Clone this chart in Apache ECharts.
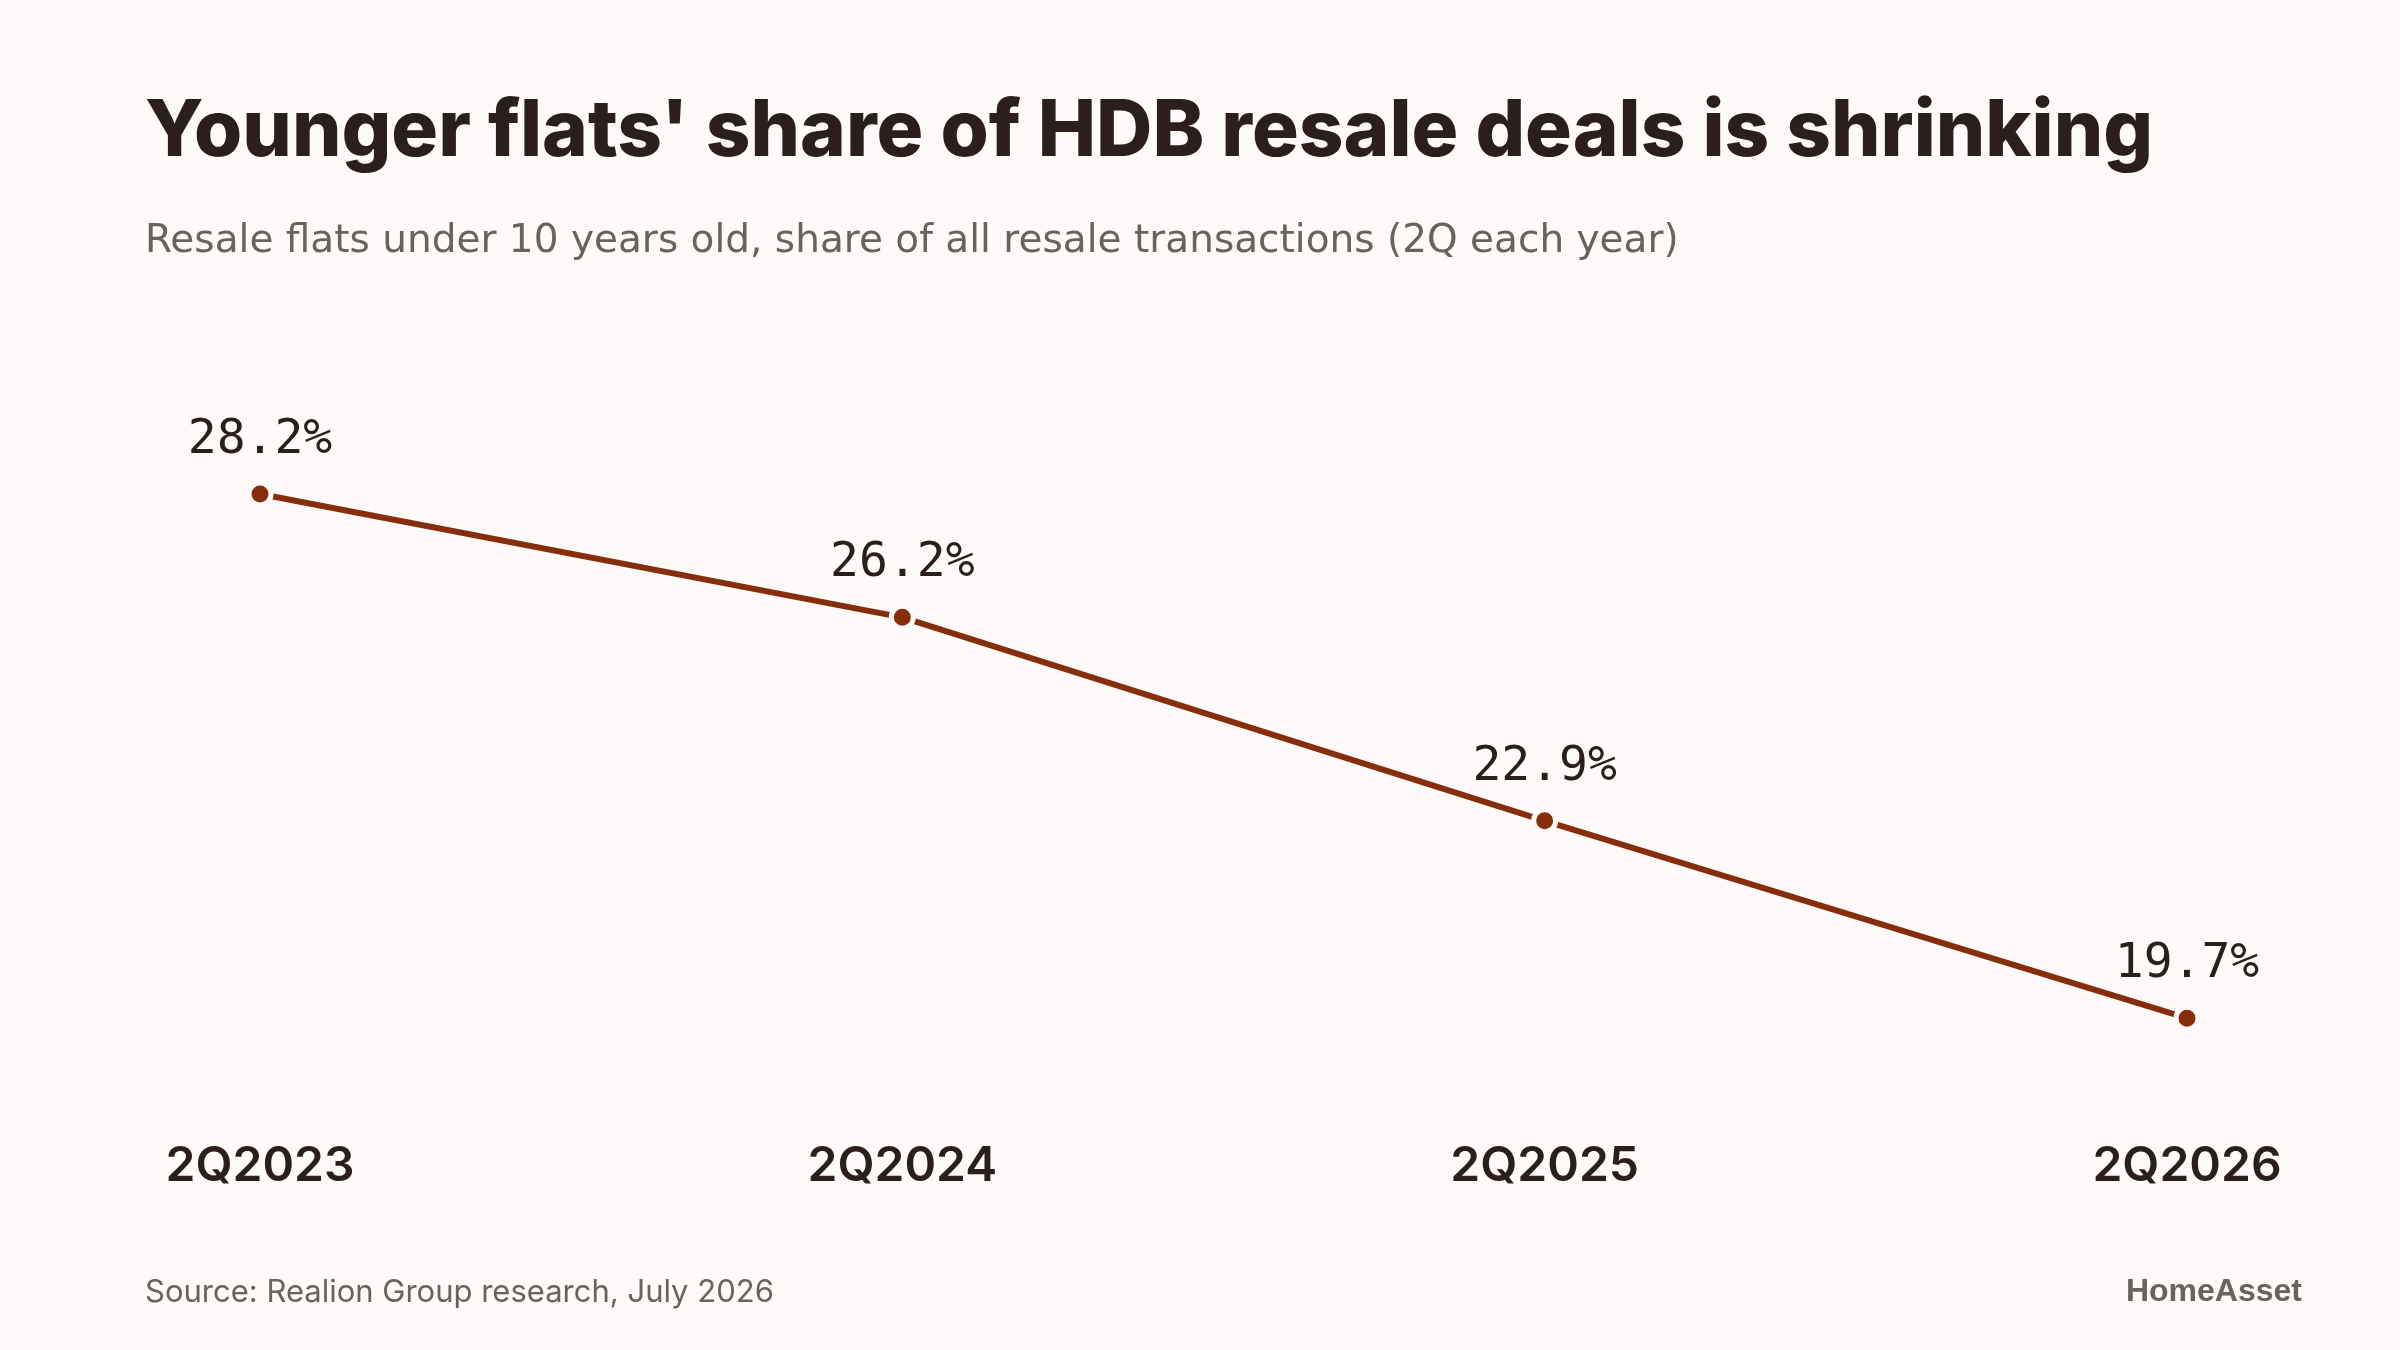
<!DOCTYPE html>
<html>
<head>
<meta charset="utf-8">
<style>
html,body{margin:0;padding:0;background:#fefaf9;}
#chart{width:2400px;height:1350px;}
</style>
<script src="https://cdn.jsdelivr.net/npm/echarts@6/dist/echarts.min.js"></script>
</head>
<body>
<div id="chart"></div>
<script>
const categories = ['2Q2023', '2Q2024', '2Q2025', '2Q2026'];
const shareValues = [28.2, 26.2, 22.9, 19.7];

const titleText = "Younger flats' share of HDB resale deals is shrinking";
const subtitleText = 'Resale flats under 10 years old, share of all resale transactions (2Q each year)';
const sourceText = 'Source: Realion Group research, July 2026';
const brandText = 'HomeAsset';

const bg = '#fefaf9';
const chart = echarts.init(document.getElementById('chart'));
chart.setOption({
  backgroundColor: bg,
  animation: false,
  grid: { left: 260, right: 213, top: 383, bottom: 227, containLabel: false },
  xAxis: {
    type: 'category',
    data: categories,
    boundaryGap: false,
    axisLine: { show: false },
    axisTick: { show: false },
    splitLine: { show: false },
    axisLabel: {
      margin: 20,
      fontFamily: 'Inter',
      fontWeight: 600,
      fontSize: 48,
      color: '#2a1f1c'
    }
  },
  yAxis: {
    type: 'value',
    min: 18,
    max: 30,
    show: false
  },
  series: [{
    type: 'line',
    data: shareValues,
    symbol: 'circle',
    symbolSize: 22,
    lineStyle: { color: '#862d0b', width: 6 },
    itemStyle: { color: '#862d0b', borderColor: bg, borderWidth: 5 },
    label: {
      show: true,
      position: 'top',
      distance: 16,
      formatter: p => p.value.toFixed(1) + '%',
      fontFamily: 'DejaVu Sans Mono',
      fontSize: 48,
      color: '#2a1f1c'
    }
  }],
  graphic: [
    { type: 'text', left: 145, top: 94, style: { text: titleText, font: '800 78px Inter', fill: '#2a1f1c' } },
    { type: 'text', left: 145, top: 222, style: { text: subtitleText, font: '400 39px "DejaVu Sans"', fill: '#6b625d' } },
    { type: 'text', left: 145, top: 1277, style: { text: sourceText, font: '400 31px Inter', fill: '#6b625d' } },
    { type: 'text', right: 98, top: 1276, style: { text: brandText, font: '700 32px "Liberation Sans"', fill: '#6b625d' } }
  ]
});
</script>
</body>
</html>
